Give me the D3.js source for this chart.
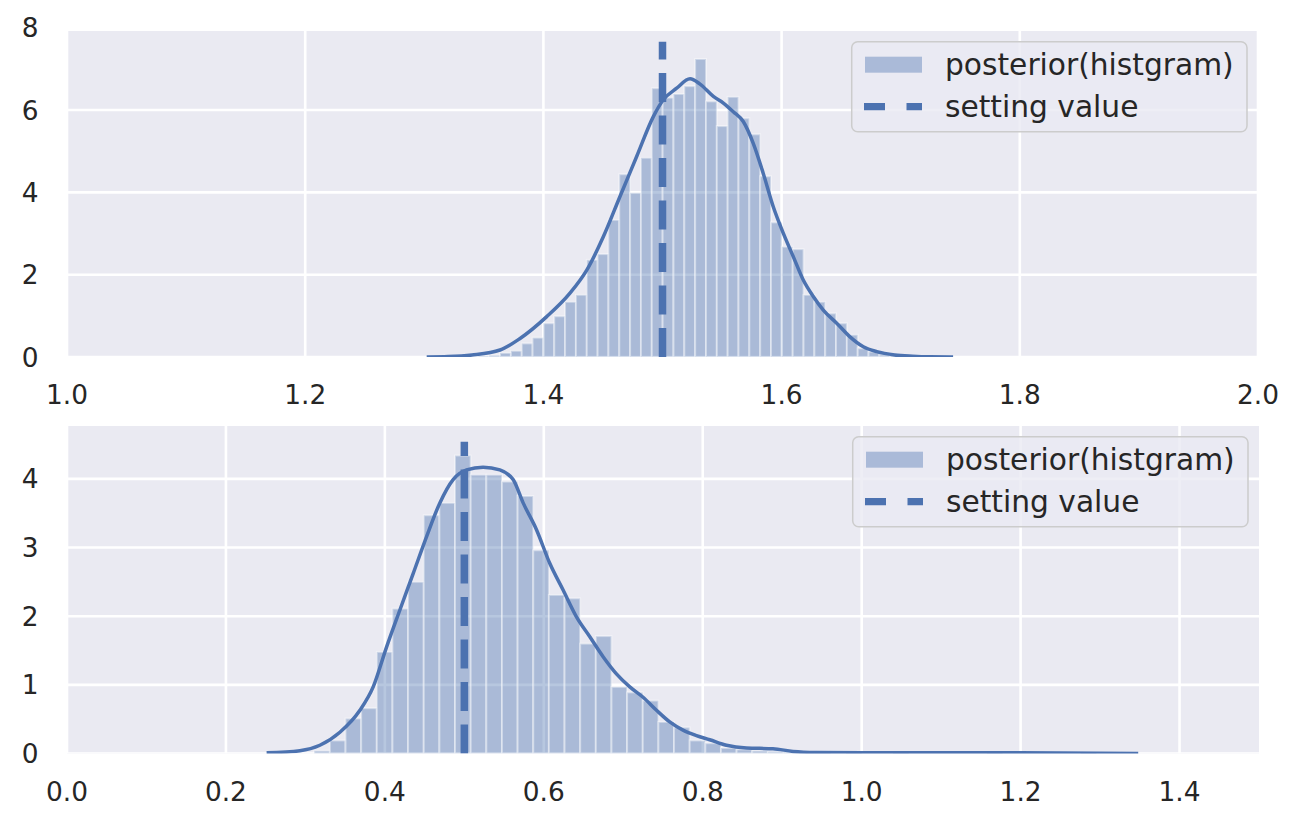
<!DOCTYPE html>
<html><head><meta charset="utf-8">
<script src="https://cdn.jsdelivr.net/npm/d3@7"></script>
<style>
body{margin:0;background:#fff;}
text{font-family:"DejaVu Sans",sans-serif;fill:#262626;}
</style>
</head><body>
<svg id="chart" width="1300" height="826"></svg>
<script>
// ---------- DATA ----------
// Top panel
const topXTicks = [1.0, 1.2, 1.4, 1.6, 1.8, 2.0];
const topYTicks = [0, 2, 4, 6, 8];
const topXDomain = [1.0, 2.0];
const topYMax = 7.92;
const topBinStart = 1.3454;
const topBinWidth = 0.0091;
const topHist = [0.02, 0.04, 0.10, 0.15, 0.33, 0.47, 0.82, 0.99, 1.34, 1.51, 2.36, 2.50, 3.33, 4.44, 3.99, 4.84,
  6.53, 6.30, 6.39, 6.58, 7.24, 6.21, 5.61, 6.32, 5.80, 5.41, 4.39, 3.27, 2.68, 2.62, 1.51, 1.34, 1.06, 0.82,
  0.54, 0.21, 0.13, 0.06, 0.03, 0.01];
const topKdeX = [1.302, 1.32, 1.34, 1.3636, 1.3804, 1.4028, 1.4223, 1.4364, 1.4503, 1.4643, 1.4783, 1.4923,
  1.5007, 1.5119, 1.5231, 1.5315, 1.5427, 1.5511, 1.5594, 1.5678, 1.5762, 1.5846, 1.5930, 1.6014, 1.6098,
  1.6182, 1.6266, 1.6350, 1.6463, 1.6574, 1.6686, 1.6799, 1.695, 1.71, 1.725, 1.744];
const topKdeY = [0, 0.01, 0.05, 0.17, 0.45, 0.98, 1.55, 2.11, 2.92, 3.90, 4.87, 5.84, 6.25, 6.53, 6.76,
  6.63, 6.33, 6.17, 5.96, 5.72, 5.19, 4.46, 3.65, 3.01, 2.44, 1.87, 1.47, 1.14, 0.82, 0.49, 0.25, 0.13,
  0.05, 0.02, 0.005, 0];
const topSetting = 1.5;
const topSettingTop = 7.66;

// Bottom panel
const botXTicks = [0.0, 0.2, 0.4, 0.6, 0.8, 1.0, 1.2, 1.4];
const botYTicks = [0, 1, 2, 3, 4];
const botXDomain = [0.0, 1.5];
const botYMax = 4.77;
const botBinStart = 0.3111;
const botBinWidth = 0.019686;
const botHist = [0.04, 0.19, 0.51, 0.66, 1.48, 2.11, 2.50, 3.47, 3.65, 4.34, 4.06, 4.06, 3.96, 3.75, 2.96,
  2.31, 2.26, 1.60, 1.71, 0.97, 0.89, 0.77, 0.46, 0.38, 0.19, 0.15, 0.08, 0.06, 0.04, 0.03, 0.02, 0.01, 0.01,
  0, 0.01, 0, 0, 0.01, 0, 0, 0, 0, 0, 0.01, 0, 0, 0, 0, 0, 0.01];
const botKdeX = [0.2512, 0.2931, 0.3182, 0.3434, 0.3686, 0.3853, 0.4021, 0.4189, 0.4356, 0.4525, 0.4692,
  0.4859, 0.5028, 0.5236, 0.5447, 0.5614, 0.5740, 0.5908, 0.6075, 0.6243, 0.6411, 0.6579, 0.6746, 0.6914,
  0.7082, 0.7249, 0.7418, 0.7585, 0.7752, 0.7921, 0.8088, 0.8298, 0.8550, 0.8884, 0.9136, 0.9430, 1.0, 1.1,
  1.2, 1.3, 1.348];
const botKdeY = [0.01, 0.04, 0.12, 0.31, 0.63, 0.97, 1.55, 2.09, 2.62, 3.16, 3.65, 3.99, 4.13, 4.17, 4.13,
  3.99, 3.65, 3.26, 2.77, 2.38, 1.99, 1.70, 1.41, 1.16, 0.97, 0.82, 0.63, 0.46, 0.34, 0.26, 0.20, 0.12,
  0.08, 0.07, 0.03, 0.015, 0.01, 0.01, 0.01, 0.005, 0];
const botSetting = 0.5;
const botSettingTop = 4.54;

const legendLabels = ["posterior(histgram)", "setting value"];

// ---------- DRAW ----------
const svg = d3.select("#chart");
const BLUE = "#4C72B0";

const panels = [
  {id: "top", left: 67, right: 1258, top: 31, bottom: 357,
   xDomain: topXDomain, yMax: topYMax, xTicks: topXTicks, yTicks: topYTicks,
   binStart: topBinStart, binWidth: topBinWidth, hist: topHist,
   kdeX: topKdeX, kdeY: topKdeY, setting: topSetting, settingTop: topSettingTop},
  {id: "bot", left: 67, right: 1259, top: 426, bottom: 753.5,
   xDomain: botXDomain, yMax: botYMax, xTicks: botXTicks, yTicks: botYTicks,
   binStart: botBinStart, binWidth: botBinWidth, hist: botHist,
   kdeX: botKdeX, kdeY: botKdeY, setting: botSetting, settingTop: botSettingTop}
];

const fmt = d3.format(".1f");

panels.forEach(p => {
  const x = d3.scaleLinear().domain(p.xDomain).range([p.left, p.right]);
  const y = d3.scaleLinear().domain([0, p.yMax]).range([p.bottom, p.top]);
  const g = svg.append("g");

  g.append("clipPath").attr("id", "clip-" + p.id)
    .append("rect").attr("x", p.left).attr("y", p.top)
    .attr("width", p.right - p.left).attr("height", p.bottom - p.top);

  g.append("rect").attr("x", p.left).attr("y", p.top)
    .attr("width", p.right - p.left).attr("height", p.bottom - p.top)
    .attr("fill", "#EAEAF2");

  const inner = g.append("g").attr("clip-path", "url(#clip-" + p.id + ")");

  // grid
  inner.selectAll(".gx").data(p.xTicks).join("line")
    .attr("x1", d => x(d)).attr("x2", d => x(d))
    .attr("y1", p.top).attr("y2", p.bottom)
    .attr("stroke", "#fff").attr("stroke-width", 2.6);
  inner.selectAll(".gy").data(p.yTicks.filter(t => t <= p.yMax)).join("line")
    .attr("x1", p.left).attr("x2", p.right)
    .attr("y1", d => y(d)).attr("y2", d => y(d))
    .attr("stroke", "#fff").attr("stroke-width", 2.6);

  // bars
  const bins = p.hist.map((h, i) => ({x0: p.binStart + i * p.binWidth, x1: p.binStart + (i + 1) * p.binWidth, h}));
  inner.append("g").selectAll("rect").data(bins.filter(b => b.h > 0)).join("rect")
    .attr("x", d => x(d.x0)).attr("width", d => x(d.x1) - x(d.x0))
    .attr("y", d => y(d.h)).attr("height", d => y(0) - y(d.h))
    .attr("fill", BLUE).attr("fill-opacity", 0.4)
    .attr("stroke", "#fff").attr("stroke-opacity", 0.4).attr("stroke-width", 2);

  // kde
  const kde = p.kdeX.map((v, i) => [v, p.kdeY[i]]);
  inner.append("path").datum(kde)
    .attr("d", d3.line().x(d => x(d[0])).y(d => y(d[1])).curve(d3.curveMonotoneX))
    .attr("fill", "none").attr("stroke", BLUE).attr("stroke-width", 3.5);

  // setting value line (drawn bottom -> top)
  inner.append("line")
    .attr("x1", x(p.setting)).attr("x2", x(p.setting))
    .attr("y1", y(0)).attr("y2", y(p.settingTop))
    .attr("stroke", BLUE).attr("stroke-width", 7.5)
    .attr("stroke-dasharray", "29,13.5");

  // tick labels
  g.selectAll(".xl").data(p.xTicks).join("text")
    .attr("x", d => x(d)).attr("y", p.bottom + 47)
    .attr("text-anchor", "middle").attr("font-size", 26.4)
    .text(d => fmt(d));
  g.selectAll(".yl").data(p.yTicks).join("text")
    .attr("x", 38.5).attr("y", d => y(d)).attr("dy", "0.36em")
    .attr("text-anchor", "end").attr("font-size", 26.4)
    .text(d => d);

  // legend
  const lx = p.right - 11 - 395.3, ly = p.top + 10.7;
  const lg = g.append("g").attr("transform", `translate(${lx},${ly})`);
  lg.append("rect").attr("x", 0).attr("y", 0).attr("width", 395.3).attr("height", 90)
    .attr("rx", 6).attr("ry", 6)
    .attr("fill", "#EAEAF2").attr("fill-opacity", 0.8)
    .attr("stroke", "#CCCCCC").attr("stroke-width", 1.5);
  lg.append("rect").attr("x", 13.3).attr("y", 15).attr("width", 57).attr("height", 16)
    .attr("fill", BLUE).attr("fill-opacity", 0.4);
  lg.append("line").attr("x1", 12.3).attr("x2", 70.3).attr("y1", 65).attr("y2", 65)
    .attr("stroke", BLUE).attr("stroke-width", 7.3).attr("stroke-dasharray", "21,21.5");
  lg.append("text").attr("x", 93.3).attr("y", 33.6).attr("font-size", 29.7).text(legendLabels[0]);
  lg.append("text").attr("x", 93.3).attr("y", 75.6).attr("font-size", 29.7).text(legendLabels[1]);
});
</script>
</body></html>
